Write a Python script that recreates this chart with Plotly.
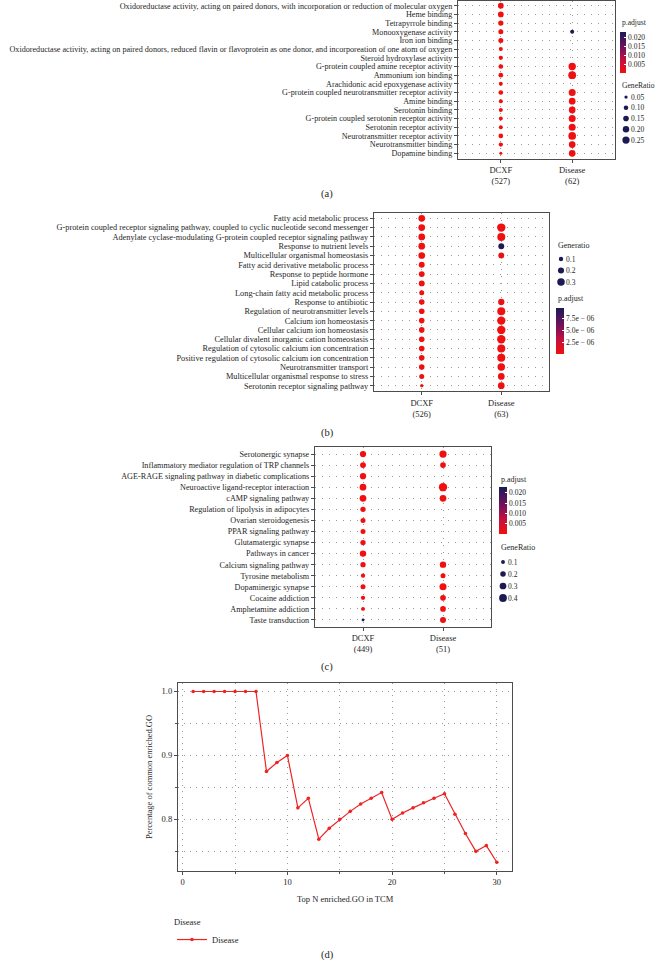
import plotly.graph_objects as go

W, H = 656, 964
SERIF = "Liberation Serif"
TXT = "#262626"
GRID = "#9A9A9A"
BOX = "#4D4D4D"
NAVY = "#1B1A55"
RED = "#EE2424"
PADJ_SCALE = [[0.0, "#F01010"], [0.3, "#C8103C"], [0.6, "#76125C"], [1.0, "#1B1A55"]]

# ---------------- Panel (a): GO molecular function ----------------
a_terms = [
    "Oxidoreductase activity, acting on paired donors, with incorporation or reduction of molecular oxygen",
    "Heme binding",
    "Tetrapyrrole binding",
    "Monooxygenase activity",
    "Iron ion binding",
    "Oxidoreductase activity, acting on paired donors, reduced flavin or flavoprotein as one donor, and incorporeation of one atom of oxygen",
    "Steroid hydroxylase activity",
    "G-protein coupled amine receptor activity",
    "Ammonium ion binding",
    "Arachidonic acid epoxygenase activity",
    "G-protein coupled neurotransmitter receptor activity",
    "Amine binding",
    "Serotonin binding",
    "G-protein coupled serotonin receptor activity",
    "Serotonin receptor activity",
    "Neurotransmitter receptor activity",
    "Neurotransmitter binding",
    "Dopamine binding",
]
a_groups = ["DCXF<br>(527)", "Disease<br>(62)"]
a_dcxf_ratio = [0.155, 0.155, 0.134, 0.119, 0.119, 0.076, 0.088, 0.105, 0.105, 0.076,
                0.105, 0.076, 0.076, 0.076, 0.076, 0.105, 0.088, 0.043]
a_dcxf_padj = [1e-9, 2e-9, 3e-9, 5e-9, 1e-8, 2e-8, 4e-8, 6e-8, 8e-8, 1e-7,
               2e-7, 3e-7, 4e-7, 5e-7, 6e-7, 8e-7, 1e-6, 2e-6]
a_dis_ratio = [None, None, None, 0.076, None, None, None, 0.26, 0.29, None,
               0.233, 0.213, 0.213, 0.233, 0.233, 0.28, 0.213, 0.213]
a_dis_padj = [None, None, None, 0.0228, None, None, None, 2e-4, 1e-4, None,
              3e-4, 4e-4, 4e-4, 3e-4, 3e-4, 1e-4, 5e-4, 5e-4]
a_padj_ticks = [0.005, 0.010, 0.015, 0.020]
a_padj_labels = ["0.005", "0.010", "0.015", "0.020"]
a_ratio_legend = [0.05, 0.10, 0.15, 0.20, 0.25]
a_ratio_labels = ["0.05", "0.10", "0.15", "0.20", "0.25"]

# ---------------- Panel (b): GO biological process ----------------
b_terms = [
    "Fatty acid metabolic process",
    "G-protein coupled receptor signaling pathway, coupled to cyclic nucleotide second messenger",
    "Adenylate cyclase-modulating G-protein coupled receptor signaling pathway",
    "Response to nutrient levels",
    "Multicellular organismal homeostasis",
    "Fatty acid derivative metabolic process",
    "Response to peptide hormone",
    "Lipid catabolic process",
    "Long-chain fatty acid metabolic process",
    "Response to antibiotic",
    "Regulation of neurotransmitter levels",
    "Calcium ion homeostasis",
    "Cellular calcium ion homeostasis",
    "Cellular divalent inorganic cation homeostasis",
    "Regulation of cytosolic calcium ion concentration",
    "Positive regulation of cytosolic calcium ion concentration",
    "Neurotransmitter transport",
    "Multicellular organismal response to stress",
    "Serotonin receptor signaling pathway",
]
b_groups = ["DCXF<br>(526)", "Disease<br>(63)"]
b_dcxf_ratio = [0.239, 0.239, 0.239, 0.239, 0.239, 0.185, 0.185, 0.185, 0.133, 0.167,
                0.167, 0.167, 0.167, 0.167, 0.167, 0.167, 0.167, 0.133, 0.058]
b_dcxf_padj = [1e-12, 2e-12, 3e-12, 5e-12, 1e-11, 2e-11, 4e-11, 6e-11, 8e-11, 1e-10,
               2e-10, 3e-10, 4e-10, 5e-10, 6e-10, 8e-10, 1e-9, 2e-9, 4e-9]
b_dis_ratio = [None, 0.376, 0.341, 0.185, 0.185, None, None, None, None, 0.211,
               0.341, 0.376, 0.376, 0.376, 0.341, 0.341, 0.30, 0.239, 0.239]
b_dis_padj = [None, 1e-8, 2e-8, 9.6e-6, 4e-7, None, None, None, None, 2e-7,
              3e-8, 1e-8, 1e-8, 1e-8, 2e-8, 2e-8, 5e-8, 1e-7, 1e-7]
b_padj_ticks = [2.5e-6, 5.0e-6, 7.5e-6]
b_padj_labels = ["2.5e \u2212 06", "5.0e \u2212 06", "7.5e \u2212 06"]
b_ratio_legend = [0.1, 0.2, 0.3]
b_ratio_labels = ["0.1", "0.2", "0.3"]

# ---------------- Panel (c): KEGG pathways ----------------
c_terms = [
    "Serotonergic synapse",
    "Inflammatory mediator regulation of TRP channels",
    "AGE-RAGE signaling pathway in diabetic complications",
    "Neuroactive ligand-receptor interaction",
    "cAMP signaling pathway",
    "Regulation of lipolysis in adipocytes",
    "Ovarian steroidogenesis",
    "PPAR signaling pathway",
    "Glutamatergic synapse",
    "Pathways in cancer",
    "Calcium signaling pathway",
    "Tyrosine metabolism",
    "Dopaminergic synapse",
    "Cocaine addiction",
    "Amphetamine addiction",
    "Taste transduction",
]
c_groups = ["DCXF<br>(449)", "Disease<br>(51)"]
c_dcxf_ratio = [0.26, 0.23, 0.26, 0.30, 0.30, 0.19, 0.165, 0.165, 0.186, 0.27,
                0.186, 0.122, 0.165, 0.122, 0.10, 0.052]
c_dcxf_padj = [1e-8, 2e-8, 3e-8, 5e-8, 1e-7, 2e-7, 4e-7, 6e-7, 8e-7, 1e-6,
               2e-6, 4e-6, 6e-6, 8e-6, 1e-5, 0.0228]
c_dis_ratio = [0.35, 0.215, None, 0.455, 0.30, None, None, None, None, None,
               0.27, 0.165, 0.33, 0.215, 0.215, 0.24]
c_dis_padj = [1e-9, 1e-6, None, 1e-12, 1e-8, None, None, None, None, None,
              1e-8, 1e-6, 1e-10, 1e-7, 1e-7, 1e-7]
c_padj_ticks = [0.005, 0.010, 0.015, 0.020]
c_padj_labels = ["0.005", "0.010", "0.015", "0.020"]
c_ratio_legend = [0.1, 0.2, 0.3, 0.4]
c_ratio_labels = ["0.1", "0.2", "0.3", "0.4"]

# ---------------- Panel (d): percentage of common enriched GO ----------------
d_topn = list(range(1, 31))
d_pct = [1.0, 1.0, 1.0, 1.0, 1.0, 1.0, 1.0, 0.875, 0.889, 0.9,
         0.818, 0.833, 0.769, 0.786, 0.8, 0.8125, 0.824, 0.833, 0.842, 0.8,
         0.81, 0.818, 0.826, 0.833, 0.84, 0.808, 0.778, 0.75, 0.759, 0.733]
d_xticks = [0, 10, 20, 30]
d_yticks = [0.8, 0.9, 1.0]


def px(x):
    return x / W


def py(y):
    return 1 - y / H


def ax_key(kind, n):
    return f"{kind}axis" if n == 1 else f"{kind}axis{n}"


def ax_ref(kind, n):
    return kind if n == 1 else f"{kind}{n}"


fig = go.Figure()
annotations = []


def text(x, y, s, size=8.5, xanchor="left", yanchor="middle", angle=0):
    annotations.append(dict(x=px(x), y=py(y), xref="paper", yref="paper", text=s,
                            showarrow=False, xanchor=xanchor, yanchor=yanchor,
                            textangle=angle,
                            font=dict(family=SERIF, size=size, color=TXT)))


def dot_panel(n, terms, groups, series, box, k, cax, yfont, xfont=8.5):
    xa, ya = ax_ref("x", n), ax_ref("y", n)
    sizeref = 2.0 / k ** 2
    for g, (ratios, padj) in zip(groups, series):
        pts = [(t, r, p) for t, r, p in zip(terms, ratios, padj) if r is not None]
        fig.add_trace(go.Scatter(
            x=[g] * len(pts), y=[t for t, _, _ in pts], mode="markers",
            marker=dict(size=[r for _, r, _ in pts], sizemode="area", sizeref=sizeref,
                        sizemin=1, color=[p for _, _, p in pts], coloraxis=cax,
                        opacity=1, line=dict(width=0)),
            xaxis=xa, yaxis=ya, showlegend=False, hoverinfo="skip"))
    x0, y0, x1, y1 = box
    common = dict(showline=True, mirror=True, linecolor=BOX, linewidth=1.3,
                  ticks="outside", ticklen=3, tickcolor=BOX, tickwidth=1,
                  showgrid=True, gridcolor=GRID, gridwidth=1, griddash="1px,6px",
                  zeroline=False, fixedrange=True, type="category",
                  categoryorder="array", tickmode="array")
    fig.update_layout(**{
        ax_key("x", n): dict(domain=[px(x0), px(x1)], anchor=ya, categoryarray=groups,
                             tickvals=groups, ticktext=groups,
                             range=[-0.6, len(groups) - 0.4],
                             tickfont=dict(family=SERIF, size=xfont, color=TXT), **common),
        ax_key("y", n): dict(domain=[py(y1), py(y0)], anchor=xa, categoryarray=terms,
                             tickvals=terms, ticktext=terms,
                             range=[len(terms) - 0.4, -0.6],
                             tickfont=dict(family=SERIF, size=yfont, color=TXT), **common),
    })


def size_legend(n, values, labels, cx, yfirst, step, k):
    xa, ya = ax_ref("x", n), ax_ref("y", n)
    fig.add_trace(go.Scatter(
        x=[0] * len(values), y=labels, mode="markers",
        marker=dict(size=values, sizemode="area", sizeref=2.0 / k ** 2, color=NAVY,
                    opacity=1, line=dict(width=0)),
        xaxis=xa, yaxis=ya, showlegend=False, hoverinfo="skip"))
    ylast = yfirst + step * (len(values) - 1)
    fig.update_layout(**{
        ax_key("x", n): dict(domain=[px(cx - 4), px(cx + 4)], range=[-1, 1], visible=False,
                             anchor=ya, fixedrange=True),
        ax_key("y", n): dict(domain=[py(ylast + step / 2), py(yfirst - step / 2)],
                             type="category", categoryarray=labels, categoryorder="array",
                             tickmode="array", tickvals=labels, ticktext=labels,
                             range=[len(values) - 0.5, -0.5], side="right", anchor=xa,
                             showline=False, showgrid=False, zeroline=False, ticks="",
                             fixedrange=True,
                             tickfont=dict(family=SERIF, size=7.5, color=TXT)),
    })


def colorbar(x, top, length, thick, ticks, labels):
    return dict(x=px(x), xanchor="left", y=py(top), yanchor="top", len=length,
                lenmode="pixels", thickness=thick, thicknessmode="pixels",
                outlinewidth=0, xpad=0, ypad=0, tickvals=ticks, ticktext=labels,
                ticks="inside", ticklen=2, tickcolor="white",
                tickfont=dict(family=SERIF, size=7.5, color=TXT))


# Panel (a)
dot_panel(1, a_terms, a_groups, [(a_dcxf_ratio, a_dcxf_padj), (a_dis_ratio, a_dis_padj)],
          (458, 0.5, 615, 158.5), 14.5, "coloraxis", 8.15)
size_legend(5, a_ratio_legend, a_ratio_labels, 626, 97, 10.75, 14.5)
text(620, 22, "p.adjust", 7.6)
text(620, 85, "GeneRatio", 7.6)
text(327, 194, "(a)", 10.5, xanchor="center")

# Panel (b)
dot_panel(2, b_terms, b_groups, [(b_dcxf_ratio, b_dcxf_padj), (b_dis_ratio, b_dis_padj)],
          (374, 212.7, 549, 391.3), 13.7, "coloraxis2", 8.3)
size_legend(6, b_ratio_legend, b_ratio_labels, 561, 259, 11.5, 13.7)
text(556, 246, "Generatio", 8)
text(556, 298, "p.adjust", 8)
text(327, 433, "(b)", 10.5, xanchor="center")

# Panel (c)
dot_panel(3, c_terms, c_groups, [(c_dcxf_ratio, c_dcxf_padj), (c_dis_ratio, c_dis_padj)],
          (315, 447.4, 491, 626.6), 12.3, "coloraxis3", 8.2)
size_legend(7, c_ratio_legend, c_ratio_labels, 503, 562, 12, 12.3)
text(499, 479, "p.adjust", 8)
text(499, 547, "GeneRatio", 8)
text(327, 667, "(c)", 10.5, xanchor="center")

# Panel (d)
fig.add_trace(go.Scatter(
    x=d_topn, y=d_pct, mode="lines+markers", name="Disease",
    line=dict(color=RED, width=1.2), marker=dict(size=3.6, color=RED),
    xaxis="x4", yaxis="y4", showlegend=True, hoverinfo="skip"))
dgrid = dict(showgrid=True, gridcolor=GRID, gridwidth=1, griddash="1px,5px")
dline = dict(showline=True, mirror=True, linecolor=BOX, linewidth=1.3, zeroline=False,
             ticks="outside", ticklen=3, tickcolor=BOX, fixedrange=True,
             tickfont=dict(family=SERIF, size=8.5, color=TXT))
fig.update_layout(
    xaxis4=dict(domain=[px(178), px(512)], anchor="y4", range=[-0.45, 31.45],
                tickmode="array", tickvals=d_xticks, ticktext=[str(v) for v in d_xticks],
                minor=dict(tick0=0, dtick=5, ticks="outside", ticklen=2, tickcolor=BOX, **dgrid),
                **dgrid, **dline),
    yaxis4=dict(domain=[py(870.7), py(683)], anchor="x4", range=[0.7197, 1.0133],
                tickmode="array", tickvals=d_yticks, ticktext=[f"{v:.1f}" for v in d_yticks],
                minor=dict(tick0=0, dtick=0.05, ticks="outside", ticklen=2, tickcolor=BOX, **dgrid),
                **dgrid, **dline),
)
text(345, 899, "Top N enriched.GO in TCM", 8.5, xanchor="center")
text(149, 777, "Percentage of common enriched.GO", 8.5, xanchor="center", angle=-90)
text(327, 955, "(d)", 10.5, xanchor="center")

fig.update_layout(
    width=W, height=H, margin=dict(l=0, r=0, t=0, b=0),
    paper_bgcolor="white", plot_bgcolor="white",
    font=dict(family=SERIF, size=8.5, color=TXT),
    coloraxis=dict(colorscale=PADJ_SCALE, cmin=0, cmax=0.0228,
                   colorbar=colorbar(620, 32, 41, 6, a_padj_ticks, a_padj_labels)),
    coloraxis2=dict(colorscale=PADJ_SCALE, cmin=0, cmax=9.6e-6,
                    colorbar=colorbar(556, 308, 46, 8, b_padj_ticks, b_padj_labels)),
    coloraxis3=dict(colorscale=PADJ_SCALE, cmin=0, cmax=0.0228,
                    colorbar=colorbar(499, 487, 47, 8, c_padj_ticks, c_padj_labels)),
    showlegend=True,
    legend=dict(x=px(172), y=py(914), xanchor="left", yanchor="top",
                title=dict(text="Disease", font=dict(family=SERIF, size=8.5, color=TXT)),
                font=dict(family=SERIF, size=8.5, color=TXT), itemwidth=30,
                bgcolor="rgba(0,0,0,0)"),
    annotations=annotations,
)

fig.write_html("out.html", config={"displayModeBar": False},
               post_script="document.body.style.margin='0';document.body.style.padding='0';")
